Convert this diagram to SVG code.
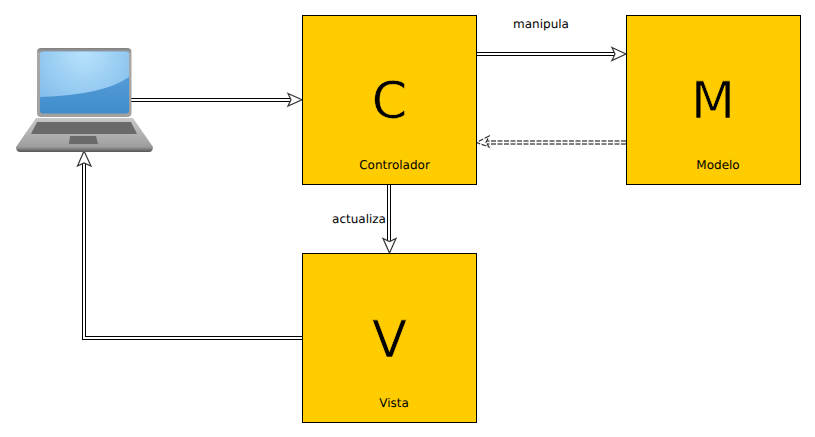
<svg xmlns="http://www.w3.org/2000/svg" width="815" height="437" viewBox="0 0 815 437">
<defs>
<style>
text{text-rendering:geometricPrecision}
.box{fill:#ffcc00;stroke:#000;stroke-width:1}
.big{font:51px "DejaVu Sans",sans-serif;fill:#000;stroke:#ffcc00;stroke-width:.6;text-anchor:middle}
.lbl{font:12px "DejaVu Sans",sans-serif;fill:#000;text-anchor:middle}
.out{fill:none;stroke:#000;stroke-width:4}
.in{fill:none;stroke:#fff;stroke-width:2}
.head{fill:#fff;stroke:#333;stroke-width:1.2}
.dash{stroke-dasharray:5 1.5}
</style>
<linearGradient id="bezel" x1="0" y1="0" x2="0" y2="1"><stop offset="0" stop-color="#808080"/><stop offset="0.08" stop-color="#a8a8a8"/><stop offset="1" stop-color="#a0a0a0"/></linearGradient>
<radialGradient id="screen" gradientUnits="userSpaceOnUse" cx="84" cy="52" r="70"><stop offset="0" stop-color="#b8e2fd"/><stop offset="1" stop-color="#7db9e8"/></radialGradient>
<linearGradient id="low" x1="0" y1="0" x2="0" y2="1"><stop offset="0" stop-color="#62a8e0"/><stop offset="1" stop-color="#3f8bcb"/></linearGradient>
<linearGradient id="base" x1="0" y1="0" x2="0" y2="1"><stop offset="0" stop-color="#c8c8c8"/><stop offset="0.7" stop-color="#a6a6a6"/><stop offset="0.85" stop-color="#9c9c9c"/><stop offset="1" stop-color="#555"/></linearGradient>
</defs>
<g id="connectors">
<path class="out" d="M131 100H295"/><path class="in" d="M130 100H296"/>
<path class="head" d="M288 93.500L302 99.800L288 106L291 99.800Z"/>
<path class="out" d="M475 54H619"/><path class="in" d="M475 54H620"/>
<path class="head" d="M612 47.500L626 54L612 60.500L615 54Z"/>
<path class="out dash" d="M626 142.500H484"/><path class="in" d="M626 142.500H484"/>
<path class="head dash" d="M489 136L476.500 142.500L489 147L486 142.500Z"/>
<path class="out" d="M389 184V245"/><path class="in" d="M389 184V246"/>
<path class="head" d="M383 238.500L389.500 253L396 238.500L389.500 241.500Z"/>
<path class="out" d="M302 338H84V159"/><path class="in" d="M302 338H84V158"/>
<path class="head" d="M77.500 166L84 151L91 166L84 163Z"/>
</g>
<g id="node-laptop">
<path d="M37 52Q37 48 41 48H127Q131.500 48 131.500 52V113Q131.500 117 127 117H41Q37 117 37 113Z" fill="url(#bezel)"/>
<rect x="40" y="51.500" width="89" height="62" rx="3" fill="url(#low)"/>
<path d="M40 54.500Q40 51.500 43 51.500H126Q129 51.500 129 54.500V77Q104 95 40 97Z" fill="url(#screen)"/>
<path d="M36 118H133L153 147Q153 152 149 152H20Q16 152 16 147Z" fill="url(#base)"/>
<path d="M37 122H131L137 134H31Z" fill="#6a6a6a"/>
<path d="M70 136H96L98 144H69Z" fill="#6a6a6a"/>
</g>
<g id="node-c">
<rect class="box" x="302.500" y="15.500" width="174" height="169"/>
<text class="big" x="389.500" y="118">C</text>
<text class="lbl" x="394.500" y="168.500">Controlador</text>
</g>
<g id="node-m">
<rect class="box" x="626.500" y="15.500" width="174" height="169"/>
<text class="big" x="713" y="118">M</text>
<text class="lbl" x="718" y="168.500">Modelo</text>
</g>
<g id="node-v">
<rect class="box" x="302.500" y="253.500" width="174" height="169"/>
<text class="big" x="389.500" y="356.500">V</text>
<text class="lbl" x="394" y="406.500">Vista</text>
</g>
<g id="labels">
<text class="lbl" x="541" y="28">manipula</text>
<text class="lbl" x="359" y="223">actualiza</text>
</g>
</svg>
